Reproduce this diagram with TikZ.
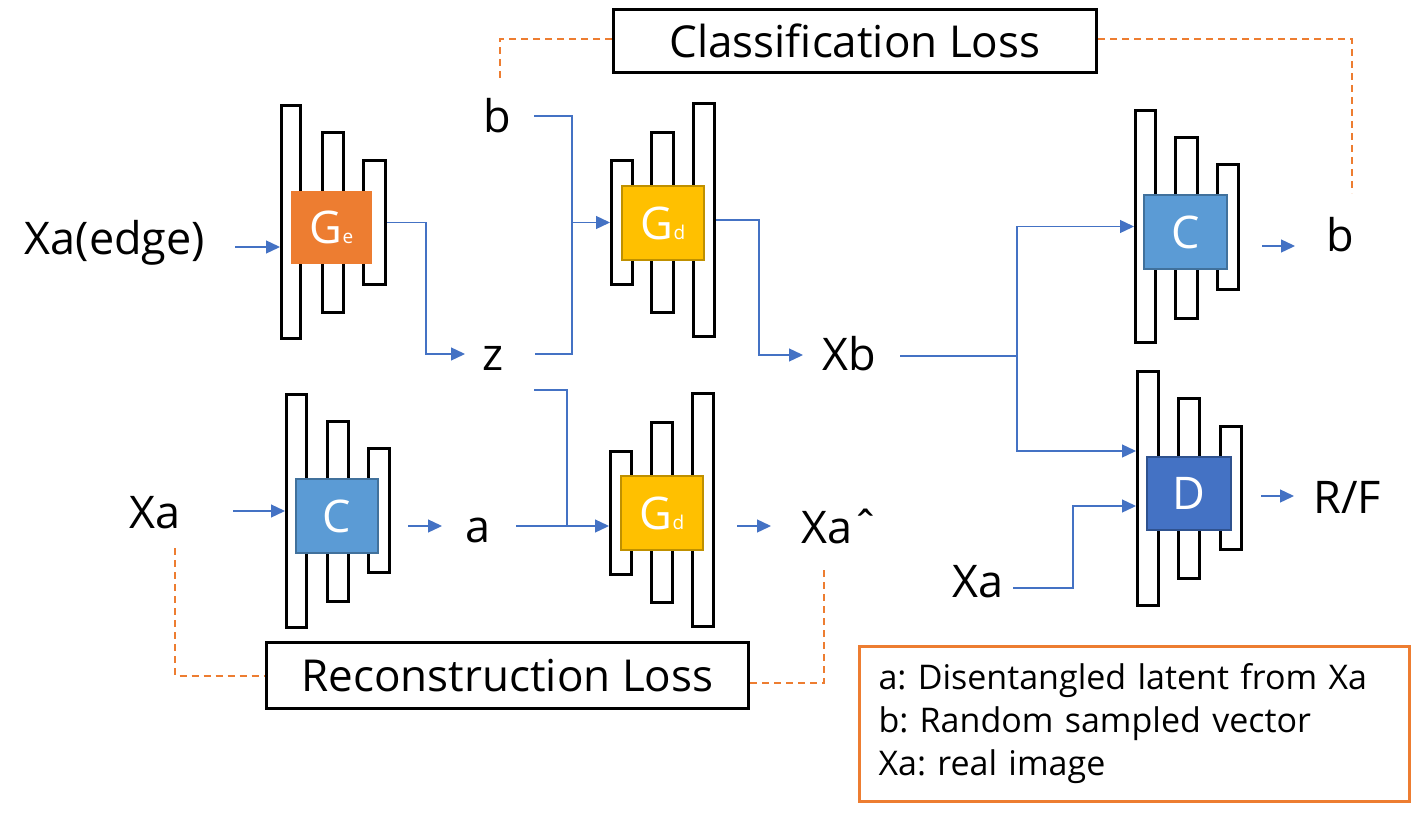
\documentclass[tikz,border=0pt]{standalone}
\usepackage{fontspec}
\setmainfont{Open Sans}
\usetikzlibrary{arrows.meta}
\frenchspacing
\definecolor{orng}{HTML}{ED7D31}
\definecolor{gold}{HTML}{FFC000}
\definecolor{goldb}{HTML}{BF9000}
\definecolor{cblue}{HTML}{5B9BD5}
\definecolor{cblueb}{HTML}{41719C}
\definecolor{dblue}{HTML}{4472C4}
\definecolor{dblueb}{HTML}{2F528F}
\definecolor{arrowc}{HTML}{4472C4}
\newcommand{\subtxt}[1]{{\fontsize{19}{19}\selectfont #1}}
\tikzset{
  bar/.style args={#1/#2}{draw=black, line width=3pt, fill=white, inner sep=0pt, minimum width=#1pt, minimum height=#2pt},
  blk/.style args={#1/#2}{line width=2.5pt, inner sep=0pt, minimum width=#1pt, minimum height=#2pt, text=white, font=\fontsize{45}{50}\selectfont},
  gebox/.style={blk=79/71, fill=orng, draw=orng},
  gdbox/.style={blk=82/74, fill=gold, draw=goldb},
  cbox/.style={blk=82/74, fill=cblue, draw=cblueb},
  dbox/.style={blk=84/73, fill=dblue, draw=dblueb},
  lbl/.style={font=\fontsize{45}{50}\selectfont, inner sep=0pt, anchor=base},
  lossbox/.style={draw=black, line width=3pt, inner sep=0pt, font=\fontsize{44}{50}\selectfont},
  conn/.style={draw=arrowc, line width=1.3pt},
  arr/.style={conn, -{Triangle[length=14pt,width=13pt]}},
  dsh/.style={draw=orng, line width=2pt, dash pattern=on 7pt off 5pt},
}
\begin{document}
\begin{tikzpicture}[x=1pt, y=-1pt]
\useasboundingbox (0,0) rectangle (1420,813);
% Ge block
\node[bar=19/233] (ge1) at (291,222) {};
\node[bar=21/180] (ge2) at (333,222.5) {};
\node[bar=22/124] (ge3) at (374.5,222.5) {};
\node[gebox] (ge) at (331.5,227.5) {G\subtxt{e}};
% upper Gd
\node[bar=21/124] (gd1) at (622,222.5) {};
\node[bar=22/180] (gd2) at (662.5,222.5) {};
\node[bar=21/233] (gd3) at (704,220) {};
\node[gdbox] (gd) at (663,223) {G\subtxt{d}};
% left C
\node[bar=20/233] (c1) at (296.5,511) {};
\node[bar=21/180] (c2) at (338,511.5) {};
\node[bar=21/124] (c3) at (379,510.5) {};
\node[cbox] (cl) at (337,516) {C};
% lower Gd
\node[bar=21/123] (lg1) at (621,513) {};
\node[bar=21/180] (lg2) at (662,512.5) {};
\node[bar=21/233] (lg3) at (703,510) {};
\node[gdbox] (lgd) at (662,513) {G\subtxt{d}};
% right C
\node[bar=20/232] (rc1) at (1145.5,226.5) {};
\node[bar=22/181] (rc2) at (1186.5,228) {};
\node[bar=21/125] (rc3) at (1228,227) {};
\node[cbox, minimum width=83pt] (cr) at (1185.5,232) {C};
% D
\node[bar=21/234] (d1) at (1148,488.5) {};
\node[bar=21/180] (d2) at (1189,488.5) {};
\node[bar=21/123] (d3) at (1231,488) {};
\node[dbox] (dd) at (1189,493.5) {D};
% labels
\node[lbl] (xaedge) at (115,254) {Xa(edge)};
\node[lbl] (btop) at (497,133) {b};
\node[lbl] (z) at (493,370) {z};
\node[lbl] (xb) at (849,370) {Xb};
\node[lbl] (xal) at (155,528) {Xa};
\node[lbl] (a) at (478,542) {a};
\node[lbl] (xahat) at (840,543) {Xaˆ};
\node[lbl] (bright) at (1340,251) {b};
\node[lbl] (xar) at (978,597) {Xa};
\node[lbl] (rf) at (1347,513) {R/F};
% loss boxes
\node[lossbox, minimum width=483pt, minimum height=63pt] (cls) at (855,41) {Classification Loss};
\node[lossbox, minimum width=482pt, minimum height=66pt] (recon) at (507.5,675.5) {Reconstruction Loss};
% legend
\node[draw=orng, line width=2.5pt, minimum width=550pt, minimum height=155pt, inner xsep=19pt, text width=512pt, align=left, font=\fontsize{34}{43}\selectfont] (legend) at (1134.5,724) {a: Disentangled latent from Xa\\b: Random sampled vector\\Xa: real image};
% connectors
\coordinate (xe1) at (235,247);
\draw[arr] (xe1) -- (xe1 -| ge1.west);
\coordinate (zin) at (465,354);
\draw[arr] (ge3.east) -- ++(39,0) |- (zin);
\coordinate (bout) at (534,116);
\coordinate (zout) at (535,354);
\coordinate (jb) at (572,222.5);
\draw[arr] (bout) -| (jb) -- (gd1.west);
\draw[conn] (zout) -| (jb);
\coordinate (xbin) at (803,355);
\draw[arr] (gd3.east) -- ++(43,0) |- (xbin);
\coordinate (xbout) at (900,356);
\coordinate (jx) at (1017,356);
\draw[conn] (xbout) -- (jx);
\draw[arr] (jx) |- (rc1.west);
\draw[arr] (jx) |- ([yshift=37.5pt]d1.west);
\coordinate (xaro) at (1013,588);
\draw[arr] (xaro) -- ++(60,0) |- ([yshift=-17.5pt]d1.west);
\coordinate (rco) at (1262,246);
\draw[arr] (rco) -- ++(33,0);
\coordinate (dro) at (1261,496);
\draw[arr] (dro) -- ++(33,0);
\coordinate (xalo) at (233,511);
\draw[arr] (xalo) -- (xalo -| c1.west);
\coordinate (co) at (408,526);
\draw[arr] (co) -- ++(34,0);
\coordinate (ao) at (516,526);
\coordinate (ja) at (567,526);
\coordinate (zo2) at (534,390);
\draw[arr] (ao) -- (ja -| lg1.west);
\draw[conn] (zo2) -| (ja);
\coordinate (lgo) at (737,526);
\draw[arr] (lgo) -- ++(34,0);
% dashed
\coordinate (xald) at (175,548);
\draw[dsh] (xald) |- (recon.west);
\coordinate (xahd) at (824,566);
\draw[dsh] ([yshift=-7.5pt]recon.east) -| (xahd);
\coordinate (btd) at (500,78);
\draw[dsh] ([yshift=2pt]cls.west) -| (btd);
\coordinate (brd) at (1352,193);
\draw[dsh] ([yshift=2pt]cls.east) -| (brd);
\end{tikzpicture}
\end{document}
